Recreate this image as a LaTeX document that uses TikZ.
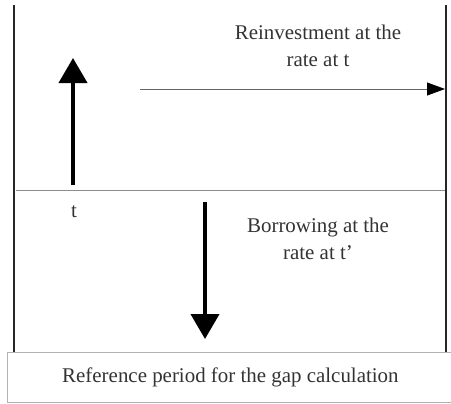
\documentclass[tikz,border=0pt]{standalone}
\usepackage{fontspec}
\setmainfont{Liberation Serif}
\usetikzlibrary{arrows.meta}
\begin{document}
\begin{tikzpicture}[x=1bp,y=-1bp,
  vline/.style={line width=2.2bp,black!85},
  bigarrow/.style={line width=4bp,-{Triangle[length=25bp,width=28bp]}},
  thinarrow/.style={line width=0.8bp,black!60,-{Triangle[length=18bp,width=13bp,fill=black,color=black]}},
  lbl/.style={font=\fontsize{21}{27}\selectfont,text=black!80,align=center,inner sep=0pt}]
\useasboundingbox (0,0) rectangle (451,403);
\coordinate (lt) at (14,5);
\coordinate (lb) at (14,352);
\coordinate (rt) at (446,5);
\coordinate (rb) at (446,352);
\draw[vline] (lt) -- (lb);
\draw[vline] (rt) -- (rb);
\coordinate (hl) at (16,190);
\coordinate (hr) at (445,190);
\draw[black!45,line width=0.9bp] (hl) -- (hr);
\coordinate (ua) at (73,185);
\coordinate (ub) at (73,58);
\draw[bigarrow] (ua) -- (ub);
\coordinate (ta) at (140,89);
\coordinate (tb) at (445,89);
\draw[thinarrow] (ta) -- (tb);
\coordinate (da) at (205,202);
\coordinate (db) at (205,339);
\draw[bigarrow] (da) -- (db);
\node[lbl] (reinv) at (318,46) {Reinvestment at the\\rate at t};
\node[lbl] (borr) at (318,239) {Borrowing at the\\rate at t’};
\node[lbl] (t) at (74,212) {t};
\node[draw=black!30,fill=white,line width=0.8bp,minimum width=446bp,minimum height=50bp,anchor=north west,inner sep=0pt,font=\fontsize{21}{27}\selectfont,text=black!80] (ref) at (7,352) {Reference period for the gap calculation};
\end{tikzpicture}
\end{document}
